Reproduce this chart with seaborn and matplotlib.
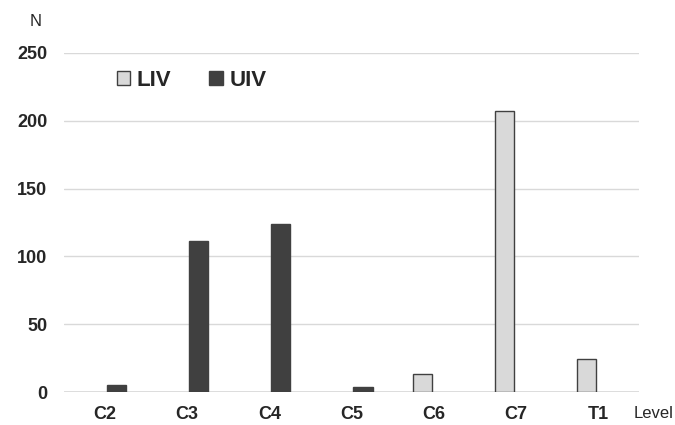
import matplotlib
matplotlib.use("Agg")
import matplotlib.pyplot as plt
from matplotlib.patches import Patch
import seaborn as sns
import pandas as pd

# =============================
# DATA
# =============================
levels = ["C2", "C3", "C4", "C5", "C6", "C7", "T1"]
liv = [0, 0, 0, 0, 13, 207, 24]
uiv = [5, 111, 124, 4, 0, 0, 0]
series = ["LIV", "UIV"]

df = pd.DataFrame({
    "Level": levels * 2,
    "N": liv + uiv,
    "Group": ["LIV"] * len(levels) + ["UIV"] * len(levels),
})

# =============================
# STYLE
# =============================
sns.set_style("white")
plt.rcParams["font.family"] = ["Liberation Sans Narrow", "Liberation Sans", "DejaVu Sans"]

fig = plt.figure(figsize=(6.75, 4.25), dpi=100)
ax = fig.add_axes([0.0948, 0.0776, 0.852, 0.7977])

palette = {"LIV": "#d9d9d9", "UIV": "#404040"}
sns.barplot(data=df, x="Level", y="N", hue="Group", hue_order=series,
            order=levels, palette=palette, width=0.56, gap=0.17,
            edgecolor="#404040", linewidth=1.0, saturation=1, ax=ax,
            legend=False)

# drop zero-height bars so no edge line shows at baseline
for p in ax.patches:
    if p.get_height() == 0:
        p.set_visible(False)

ax.set_ylim(0, 250)
ax.set_xlim(-0.5, 6.5)
ax.set_yticks([0, 50, 100, 150, 200, 250])
ax.yaxis.grid(True, color="#d9d9d9", linewidth=1)
ax.set_axisbelow(True)
for s in ax.spines.values():
    s.set_visible(False)
ax.axhline(0, color="#d9d9d9", linewidth=1.2, zorder=0)

ax.tick_params(axis="both", length=0, labelsize=13)
ax.tick_params(axis="y", pad=12)
ax.tick_params(axis="x", pad=10)
for lab in ax.get_xticklabels() + ax.get_yticklabels():
    lab.set_fontweight("bold")

ax.set_xlabel("")
ax.set_ylabel("")
fig.text(30 / 675, 1 - 22 / 425, "N", fontsize=12, ha="left", va="center")
fig.text(634 / 675, 1 - 413 / 425, "Level", fontsize=12, ha="left", va="center")

handles = [Patch(facecolor=palette[s], edgecolor="#404040", linewidth=1.0, label=s)
           for s in series]
ax.legend(handles=handles, loc="center left",
          bbox_to_anchor=(117 / 675, 1 - 80 / 425), bbox_transform=fig.transFigure,
          ncol=2, frameon=False, handlelength=0.6, handleheight=0.6,
          handletextpad=0.3, columnspacing=1.7, borderpad=0, borderaxespad=0,
          prop={"weight": "bold", "size": 16})

fig.savefig("out.png", dpi=100)
